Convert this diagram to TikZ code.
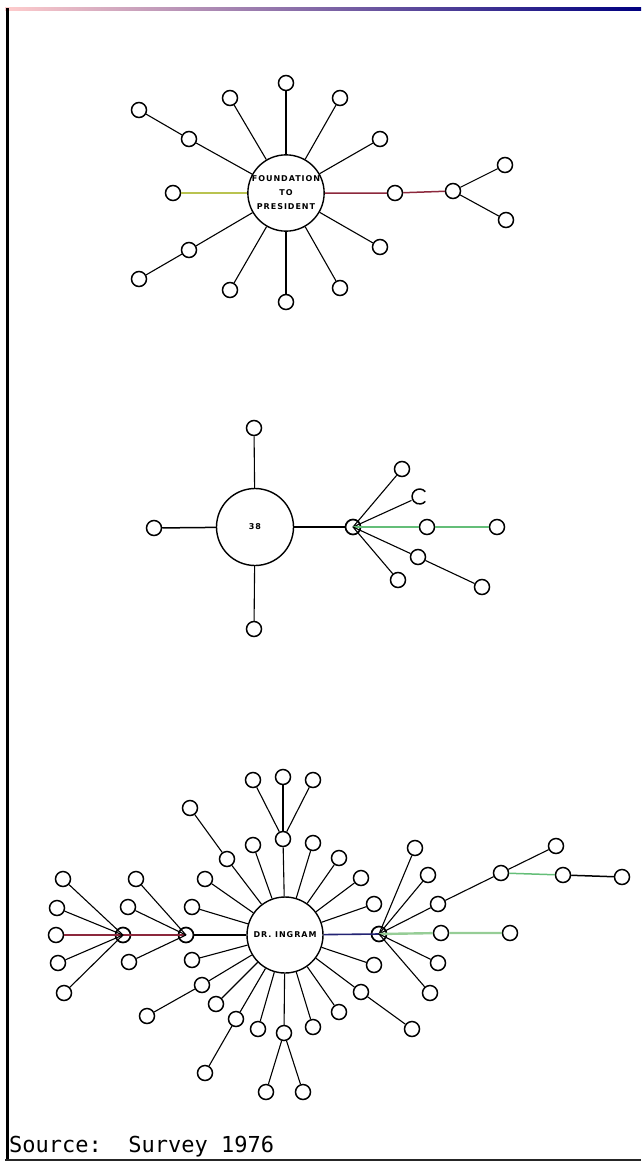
\documentclass[tikz,border=0pt]{standalone}
\usepackage{fontspec}
\newfontfamily\plotmono{DejaVu Sans Mono}
\newfontfamily\plotsans[LetterSpace=12]{DejaVu Sans}
\definecolor{tieolive}{RGB}{185,195,80}
\definecolor{tiemaroon}{RGB}{140,40,60}
\definecolor{tiegreen}{RGB}{100,190,120}
\definecolor{tienavy}{RGB}{35,35,115}
\definecolor{tiecyan}{RGB}{150,205,150}

\begin{document}
\begin{tikzpicture}[x=1pt,y=-1pt,
  actor/.style={circle,draw,line width=1.5pt,minimum size=15pt,inner sep=0pt},
  hub/.style={actor,line width=1.7pt},
  focal/.style={circle,draw,line width=1.4pt,minimum size=76pt,inner sep=0pt,align=center,
    font=\plotsans\bfseries\fontsize{8}{14}\selectfont},
  tie/.style={line width=1.1pt}]
\path[use as bounding box] (0,0) rectangle (641,1162);
% frame
\shade[left color=red!20,middle color=red!75!black,right color=blue!50!black] (5,7.5) rectangle (641,10.5);
\draw[line width=3pt] (7,8) -- (7,1160);
\draw[line width=2.6pt,black!85] (5,1160) -- (641,1160);

% foundation to president
\node[focal] (fp) at (286,193) {FOUNDATION\\TO\\PRESIDENT};
\node[actor] (fa) at (286,83) {};
\node[actor] (fb) at (230,98) {};
\node[actor] (fc) at (340,98) {};
\node[actor] (fd) at (380,139) {};
\node[actor] (fe) at (189,139) {};
\node[actor] (fe2) at (139,110) {};
\node[actor] (ff) at (173,193) {};
\node[actor] (fg) at (395,193) {};
\node[actor] (fh) at (453,191) {};
\node[actor] (fi) at (505,165) {};
\node[actor] (fj) at (506,220) {};
\node[actor] (fk) at (189,250) {};
\node[actor] (fk2) at (139,279) {};
\node[actor] (fl) at (380,247) {};
\node[actor] (fm) at (230,290) {};
\node[actor] (fn) at (340,288) {};
\node[actor] (fo) at (286,302) {};
\draw[tie] (fp) -- (fa);
\draw[tie] (fp) -- (fb);
\draw[tie] (fp) -- (fc);
\draw[tie] (fp) -- (fd);
\draw[tie] (fp) -- (fe) -- (fe2);
\draw[tie,tieolive,line width=1.6pt] (fp) -- (ff);
\draw[tie,tiemaroon,line width=1.5pt] (fp) -- (fg) -- (fh);
\draw[tie] (fh) -- (fi);
\draw[tie] (fh) -- (fj);
\draw[tie] (fp) -- (fk) -- (fk2);
\draw[tie] (fp) -- (fl);
\draw[tie] (fp) -- (fm);
\draw[tie] (fp) -- (fn);
\draw[tie] (fp) -- (fo);

% 38
\node[focal,minimum size=77pt] (sb) at (255,527) {38};
\node[actor] (sa) at (254,428) {};
\node[actor] (sl) at (154,528) {};
\node[actor] (sd) at (254,629) {};
\node[hub] (sh) at (353,527) {};
\node[actor] (s1) at (402,469) {};
\node[actor,draw=none] (s2) at (419,497) {};
\draw[line width=1.5pt] (s2.40) arc[start angle=40,end angle=320,radius=7.5pt];
\node[actor] (s3) at (427,527) {};
\node[actor] (s4) at (497,527) {};
\node[actor] (s5) at (418,557) {};
\node[actor] (s6) at (482,587) {};
\node[actor] (s7) at (398,580) {};
\draw[tie] (sb) -- (sa);
\draw[tie,line width=1.5pt] (sb) -- (sl);
\draw[tie] (sb) -- (sd);
\draw[tie,line width=1.5pt] (sb) -- (sh);
\draw[tie] (sh.center) -- (s1);
\draw[tie] (sh.center) -- (s2);
\draw[tie,tiegreen,line width=1.6pt] (sh.center) -- (s3) -- (s4);
\draw[tie] (sh.center) -- (s5) -- (s6);
\draw[tie] (sh.center) -- (s7);

% dr. ingram
\node[focal] (di) at (285,935) {DR. INGRAM};
\node[actor] (dt) at (283,839) {};
\node[actor] (dt1) at (253,780) {};
\node[actor] (dt2) at (283,777) {};
\node[actor] (dt3) at (313,780) {};
\node[actor] (d1) at (190,808) {};
\node[actor] (d1a) at (227,859) {};
\node[actor] (d2) at (253,845) {};
\node[actor] (d3) at (313,843) {};
\node[actor] (d4) at (205,879) {};
\node[actor] (d5) at (192,907) {};
\node[actor] (d6) at (339,858) {};
\node[actor] (d7) at (361,878) {};
\node[actor] (d8) at (374,904) {};
\node[actor] (d9) at (374,965) {};
\node[actor] (d10) at (361,992) {};
\node[actor] (d10a) at (412,1029) {};
\node[actor] (d11) at (339,1012) {};
\node[actor] (d12) at (313,1027) {};
\node[actor] (db) at (284,1033) {};
\node[actor] (db1) at (266,1092) {};
\node[actor] (db2) at (303,1092) {};
\node[actor] (d13) at (258,1029) {};
\node[actor] (d14) at (236,1019) {};
\node[actor] (d14a) at (205,1073) {};
\node[actor] (d15) at (216,1004) {};
\node[actor] (d16) at (202,985) {};
\node[actor] (d16a) at (147,1016) {};
\node[actor] (d17) at (192,960) {};
\draw[tie] (di) -- (dt);
\draw[tie] (dt) -- (dt1);
\draw[tie] (dt) -- (dt2);
\draw[tie] (dt) -- (dt3);
\draw[tie] (di) -- (d1a) -- (d1);
\foreach \n in {d2,d3,d4,d5,d6,d7,d8,d9,d11,d12,d13,d15,d17}
  \draw[tie] (di) -- (\n);
\draw[tie] (di) -- (d10) -- (d10a);
\draw[tie] (di) -- (db);
\draw[tie] (db) -- (db1);
\draw[tie] (db) -- (db2);
\draw[tie] (di) -- (d14) -- (d14a);
\draw[tie] (di) -- (d16) -- (d16a);
% left side
\node[hub] (lh) at (123,935) {};
\node[hub] (mh) at (186,935) {};
\node[actor] (l1) at (63,879) {};
\node[actor] (l2) at (57,908) {};
\node[actor] (l3) at (56,935) {};
\node[actor] (l4) at (58,963) {};
\node[actor] (l5) at (64,993) {};
\node[actor] (m1) at (136,879) {};
\node[actor] (m2) at (128,907) {};
\node[actor] (m3) at (129,962) {};
\draw[tie,line width=1.5pt] (di) -- (mh);
\draw[tie,tiemaroon,line width=1.5pt] (mh.center) -- (lh.center) -- (l3);
\foreach \n in {l1,l2,l4,l5}
  \draw[tie] (lh.center) -- (\n);
\foreach \n in {m1,m2,m3}
  \draw[tie] (mh.center) -- (\n);
% right side
\node[hub] (rh) at (379,934) {};
\node[actor] (r1) at (415,848) {};
\node[actor] (r2) at (428,875) {};
\node[actor] (r3) at (438,904) {};
\node[actor] (r4) at (501,873) {};
\node[actor] (r5) at (556,846) {};
\node[actor] (r6) at (563,875) {};
\node[actor] (r7) at (622,877) {};
\node[actor] (r8) at (441,933) {};
\node[actor] (r9) at (510,933) {};
\node[actor] (r10) at (438,963) {};
\node[actor] (r11) at (430,993) {};
\draw[tie,tienavy,line width=1.6pt] (di) -- (rh.center);
\draw[tie] (rh.center) -- (r1);
\draw[tie] (rh.center) -- (r2);
\draw[tie] (rh.center) -- (r3) -- (r4) -- (r5);
\draw[tie,tiegreen,line width=1.5pt] (r4) -- (r6);
\draw[tie,line width=1.5pt] (r6) -- (r7);
\draw[tie,tiecyan,line width=2.4pt] (rh.center) -- (r8) -- (r9);
\draw[tie] (rh.center) -- (r10);
\draw[tie] (rh.center) -- (r11);

\node[anchor=base west,inner sep=0pt,font=\plotmono\fontsize{22}{26}\selectfont] (src) at (9,1152) {Source:\ \ Survey 1976};
\end{tikzpicture}
\end{document}
